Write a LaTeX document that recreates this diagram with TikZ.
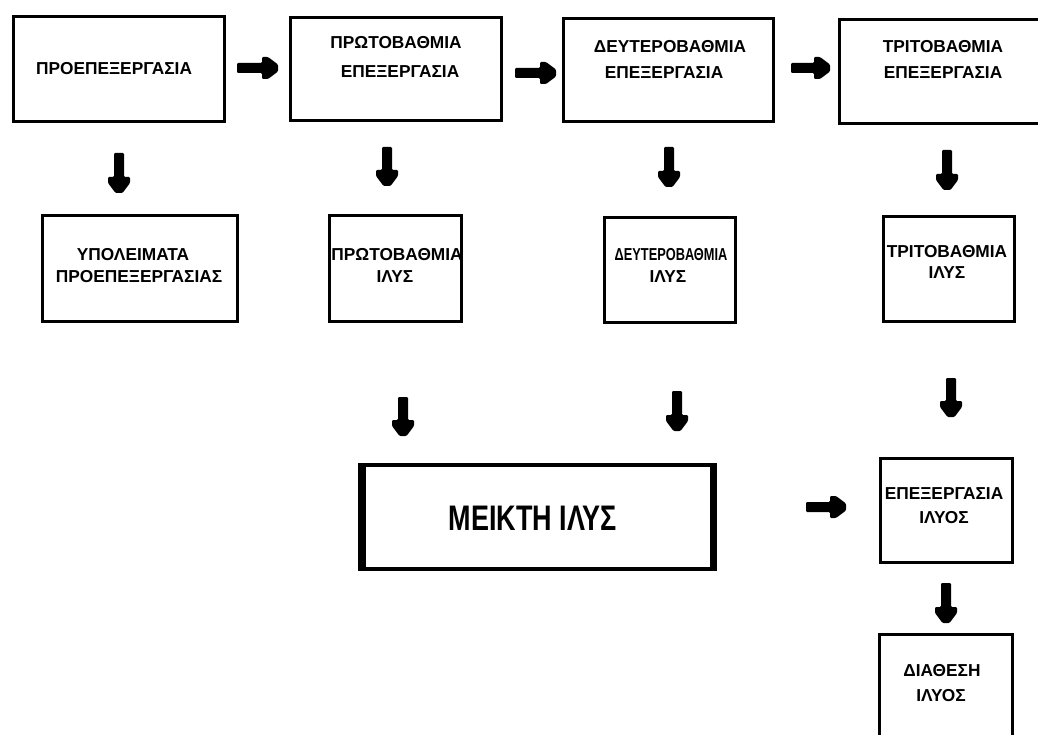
\documentclass[tikz,border=0pt]{standalone}
\usepackage{fontspec}
\setmainfont{Liberation Sans}
\newcommand\harr[3]{% x start, x end, y
  \fill[arrowfill] (#1,#3-5) -- (#2-16,#3-5) -- (#2-16,#3-11) -- (#2-10,#3-11) -- (#2,#3-3.5)
    -- (#2,#3+3.5) -- (#2-10,#3+11) -- (#2-16,#3+11) -- (#2-16,#3+5) -- (#1,#3+5) -- cycle;}
\newcommand\varr[3]{% x, y start, y end
  \fill[arrowfill] (#1-5,#2) -- (#1-5,#3-16) -- (#1-11,#3-16) -- (#1-11,#3-10) -- (#1-3.5,#3)
    -- (#1+3.5,#3) -- (#1+11,#3-10) -- (#1+11,#3-16) -- (#1+5,#3-16) -- (#1+5,#2) -- cycle;}
\begin{document}
\begin{tikzpicture}[x=1pt,y=-1pt,
  box/.style={draw=black, line width=3.2pt, inner sep=0pt},
  lbl/.style={anchor=base, inner sep=0pt, font=\fontsize{17.3}{20}\selectfont\bfseries},
  arrowfill/.style={fill=black, rounded corners=1.2pt}]
\useasboundingbox (0,0) rectangle (1038,735);
\fill[white] (0,0) rectangle (1038,735);
\clip (0,0) rectangle (1038,735);

% boxes
\node[box, minimum width=211pt, minimum height=105pt] (b1) at (119,69) {};
\node[box, minimum width=211pt, minimum height=103pt] (b2) at (396,69) {};
\node[box, minimum width=210pt, minimum height=103pt] (b3) at (668.5,70) {};
\node[box, minimum width=209pt, minimum height=104pt] (b4) at (944,71.5) {};
\node[box, minimum width=195pt, minimum height=106pt] (b5) at (140,268.5) {};
\node[box, minimum width=132pt, minimum height=106pt] (b6) at (395.5,268.5) {};
\node[box, minimum width=131pt, minimum height=105pt] (b7) at (670,270) {};
\node[box, minimum width=131pt, minimum height=105pt] (b8) at (949,269) {};
\node[box, line width=4pt, minimum width=355pt, minimum height=104pt] (b9) at (537.5,517) {};
\fill (358,463) rectangle (366,571);
\fill (710,463) rectangle (717,571);
\node[box, minimum width=132pt, minimum height=104pt] (b10) at (946.5,510.5) {};
\node[box, minimum width=133pt, minimum height=124pt] (b11) at (946,696.5) {};

% labels
\node[lbl] (t1) at (114,75) {ΠΡΟΕΠΕΞΕΡΓΑΣΙΑ};
\node[lbl] (t2a) at (396,49) {ΠΡΩΤΟΒΑΘΜΙΑ};
\node[lbl] (t2b) at (400,78) {ΕΠΕΞΕΡΓΑΣΙΑ};
\node[lbl] (t3a) at (670,53) {ΔΕΥΤΕΡΟΒΑΘΜΙΑ};
\node[lbl] (t3b) at (664,79) {ΕΠΕΞΕΡΓΑΣΙΑ};
\node[lbl] (t4a) at (943,53) {ΤΡΙΤΟΒΑΘΜΙΑ};
\node[lbl] (t4b) at (943,79) {ΕΠΕΞΕΡΓΑΣΙΑ};
\node[lbl] (t5a) at (133,261) {ΥΠΟΛΕΙΜΑΤΑ};
\node[lbl] (t5b) at (139,283) {ΠΡΟΕΠΕΞΕΡΓΑΣΙΑΣ};
\node[lbl] (t6a) at (397,261) {ΠΡΩΤΟΒΑΘΜΙΑ};
\node[lbl] (t6b) at (395,283) {ΙΛΥΣ};
\node[lbl, xscale=0.74] (t7a) at (671,261) {ΔΕΥΤΕΡΟΒΑΘΜΙΑ};
\node[lbl] (t7b) at (668,283) {ΙΛΥΣ};
\node[lbl] (t8a) at (947,258) {ΤΡΙΤΟΒΑΘΜΙΑ};
\node[lbl] (t8b) at (947,279) {ΙΛΥΣ};
\node[anchor=base, inner sep=0pt, xscale=0.76, font=\fontsize{35.5}{40}\selectfont\bfseries] (t9) at (533,530) {ΜΕΙΚΤΗ ΙΛΥΣ};
\node[lbl] (t10a) at (944,499) {ΕΠΕΞΕΡΓΑΣΙΑ};
\node[lbl] (t10b) at (944,523) {ΙΛΥΟΣ};
\node[lbl] (t11a) at (942,676) {ΔΙΑΘΕΣΗ};
\node[lbl] (t11b) at (941,701) {ΙΛΥΟΣ};

% block arrows
\harr{237}{278}{68}
\harr{515}{556}{73}
\harr{791}{830}{68}
\harr{806}{846}{507}
\varr{119}{153}{193}
\varr{387}{147}{186}
\varr{669}{147}{187}
\varr{947}{150}{190}
\varr{403}{397}{436}
\varr{677}{391}{431}
\varr{951}{378}{417}
\varr{946}{583}{623}
\end{tikzpicture}
\end{document}
